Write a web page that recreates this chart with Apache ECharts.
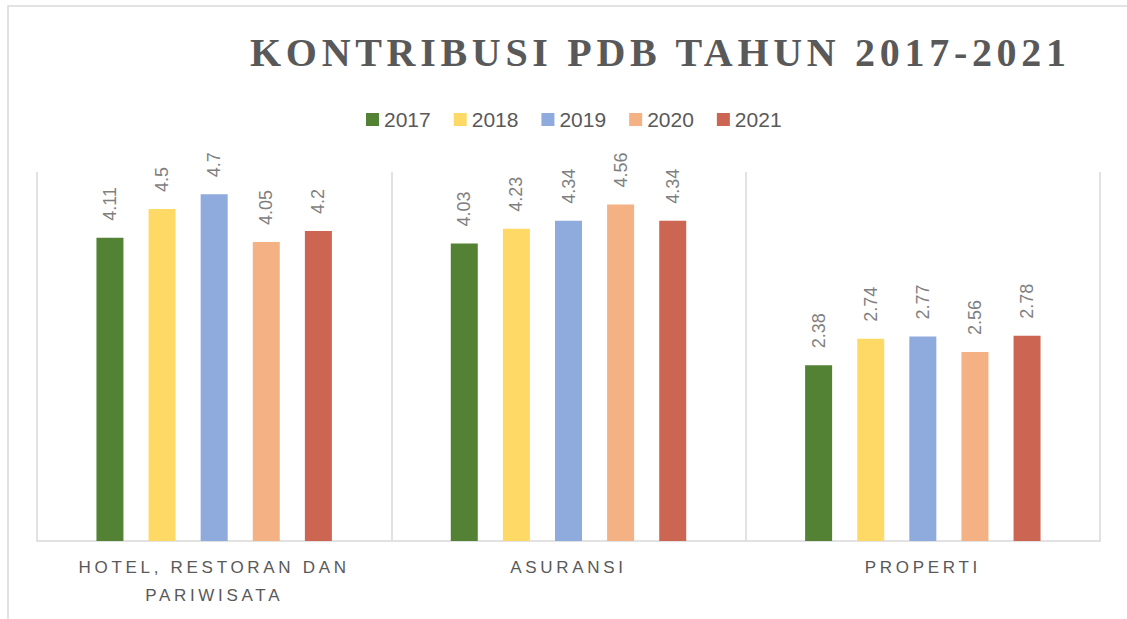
<!DOCTYPE html>
<html><head><meta charset="utf-8">
<script src="https://cdn.jsdelivr.net/npm/echarts@6/dist/echarts.min.js"></script>
<style>html,body{margin:0;padding:0;background:#fff}#c{width:1127px;height:619px}</style>
</head><body><div id="c"></div>
<script>
const titleText = 'KONTRIBUSI PDB TAHUN 2017-2021';
const categories = ['HOTEL, RESTORAN DAN\nPARIWISATA', 'ASURANSI', 'PROPERTI'];
const years = ['2017', '2018', '2019', '2020', '2021'];
const v2017 = [4.11, 4.03, 2.38];
const v2018 = [4.5, 4.23, 2.74];
const v2019 = [4.7, 4.34, 2.77];
const v2020 = [4.05, 4.56, 2.56];
const v2021 = [4.2, 4.34, 2.78];
const seriesValues = [v2017, v2018, v2019, v2020, v2021];
const colors = ['#548235', '#FFD966', '#8FAADC', '#F4B183', '#CC6552'];

const dom = document.getElementById('c');
const chart = echarts.init(dom, null, { renderer: 'svg' });

const option = {
  animation: false,
  backgroundColor: '#ffffff',
  color: colors,
  graphic: [{
    type: 'rect', silent: true,
    shape: { x: 8, y: 6, width: 1300, height: 800 },
    style: { fill: 'none', stroke: '#d9d9d9', lineWidth: 1.5 }
  }],
  title: {
    text: titleText,
    left: 245, top: 27,
    textStyle: { fontFamily: 'Liberation Serif', fontWeight: 'bold', fontSize: 40, color: '#595959' }
  },
  legend: {
    data: years,
    left: 361, top: 104,
    icon: 'rect', itemWidth: 13, itemHeight: 13, itemGap: 23,
    textStyle: { fontFamily: 'Liberation Sans', fontSize: 21, color: '#595959' }
  },
  grid: { left: 37, right: 27, top: 172, bottom: 78, containLabel: false, outerBoundsMode: 'none' },
  xAxis: {
    type: 'category',
    data: categories,
    axisLine: { lineStyle: { color: '#d9d9d9', width: 1.5 } },
    axisTick: { show: false },
    splitLine: { show: true, lineStyle: { color: '#d9d9d9', width: 1.5 } },
    axisLabel: { interval: 0, fontFamily: 'Liberation Sans', fontSize: 17, lineHeight: 28, margin: 12, color: '#595959' }
  },
  yAxis: { type: 'value', min: 0, max: 5, show: false, splitLine: { show: false } },
  series: years.map((y, i) => ({
    name: y,
    type: 'bar',
    data: seriesValues[i],
    barWidth: 27,
    barGap: '93%',
    itemStyle: { color: colors[i] },
    label: {
      show: true, position: 'top', rotate: 90, align: 'left', verticalAlign: 'middle',
      distance: 17, fontFamily: 'Liberation Sans', fontSize: 18, color: '#7f7f7f'
    }
  }))
};
chart.setOption(option);

const catLines = categories.join('\n').split('\n');
function applySpacing() {
  dom.querySelectorAll('text').forEach(t => {
    const s = t.textContent;
    if (s === titleText) t.setAttribute('letter-spacing', '4.7');
    else if (catLines.indexOf(s) >= 0) t.setAttribute('letter-spacing', '3.7');
  });
}
applySpacing();
chart.on('finished', applySpacing);
</script>
</body></html>
